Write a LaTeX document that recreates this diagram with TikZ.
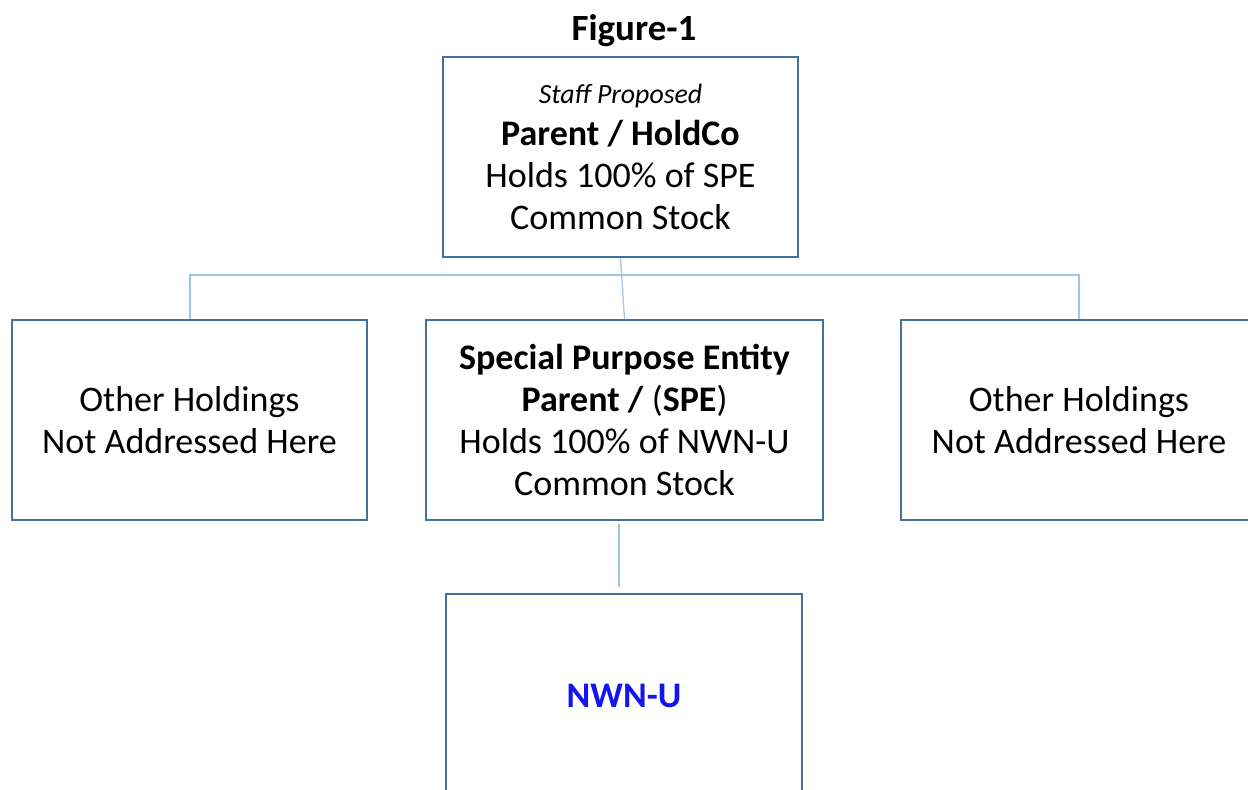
\documentclass[tikz,border=0pt]{standalone}
\usepackage{fontspec}
\setmainfont{Carlito}
\definecolor{boxblue}{RGB}{65,113,156}
\definecolor{linkblue}{RGB}{157,195,230}
\definecolor{nwnblue}{RGB}{20,20,240}
\begin{document}
\begin{tikzpicture}[x=0.5pt,y=-0.5pt,
  box/.style={draw=boxblue,line width=1pt,fill=white,inner sep=0pt,align=center,
    font=\fontsize{18}{21}\selectfont},
  link/.style={draw=linkblue,line width=0.6pt}]
\useasboundingbox (0,0) rectangle (1248,789);
\clip (0,0) rectangle (1248,789);
\node[anchor=base,font=\fontsize{18.5}{22}\selectfont\bfseries] (title) at (634,40) {Figure-1};
\node[box,minimum width=177.5pt,minimum height=100pt] (top) at (620.5,157)
  {{\fontsize{13.9}{20}\selectfont\itshape Staff Proposed}\\\textbf{Parent / HoldCo}\\Holds 100\% of SPE\\Common Stock};
\node[box,minimum width=177.5pt,minimum height=100pt] (left) at (189.5,420)
  {Other Holdings\\Not Addressed Here};
\node[box,minimum width=198.5pt,minimum height=100pt] (mid) at (624.5,420)
  {\textbf{Special Purpose Entity}\\\textbf{Parent /} (\textbf{SPE})\\Holds 100\% of NWN-U\\Common Stock};
\node[box,minimum width=178pt,minimum height=100pt] (right) at (1079,420)
  {Other Holdings\\Not Addressed Here};
\node[box,minimum width=178pt,minimum height=102pt,text=nwnblue,font=\fontsize{18}{21}\selectfont\bfseries] (nwn) at (624,696)
  {NWN-U};
\coordinate (bl) at (190,275);
\coordinate (br) at (1079,275);
\coordinate (c1) at (619,524);
\coordinate (c2) at (619,587);
\draw[link] (bl |- left.north) -- (bl) -- (br) -- (br |- right.north);
\draw[link] (top.south) -- (mid.north);
\draw[link] (c1) -- (c2);
\end{tikzpicture}
\end{document}
